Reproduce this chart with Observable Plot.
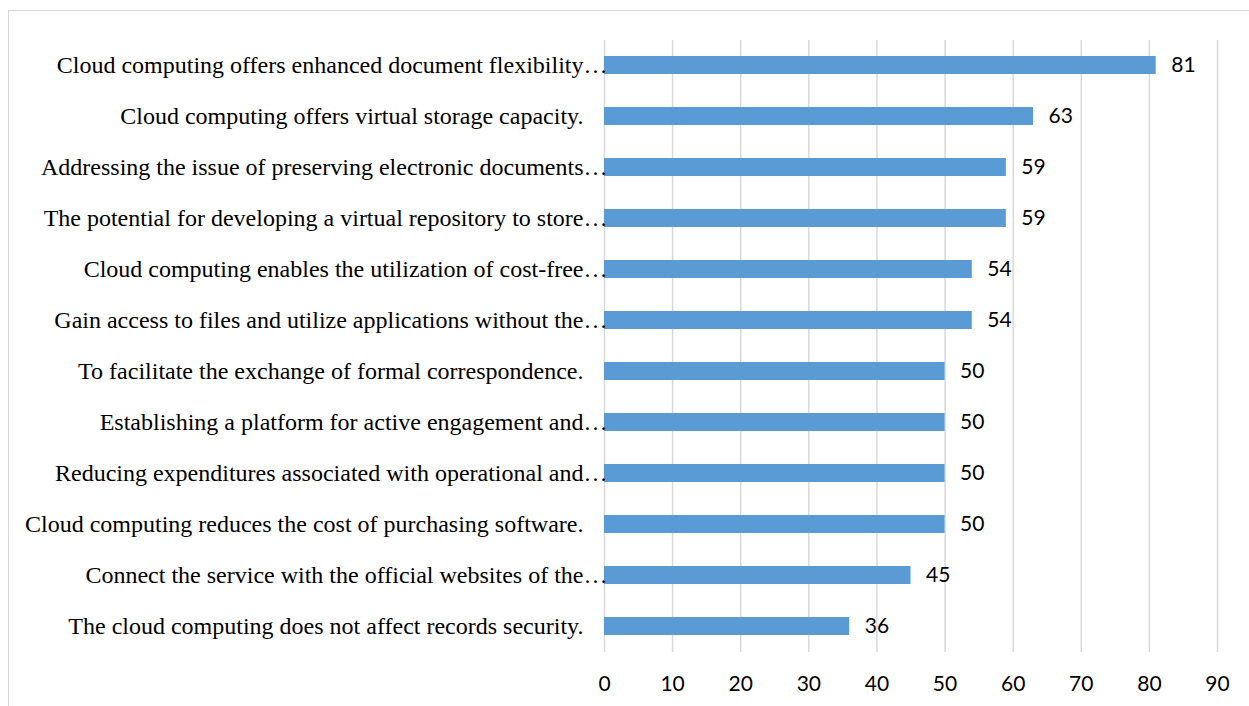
<!DOCTYPE html>
<html>
<head>
<meta charset="utf-8">
<script src="https://cdn.jsdelivr.net/npm/d3@7"></script>
<script src="https://cdn.jsdelivr.net/npm/@observablehq/plot@0.6"></script>
<style>
  html, body { margin: 0; padding: 0; background: #fff; }
  #frame { position: absolute; left: 8px; top: 10px; width: 1241px; height: 696px;
           border-top: 1px solid #d9d9d9; border-left: 1px solid #d9d9d9; box-sizing: border-box; }
  #chart { position: absolute; left: 0; top: 0; }
</style>
</head>
<body>
<div id="frame"></div>
<div id="chart"></div>
<script>
const categories = [
  "Cloud computing offers enhanced document flexibility…",
  "Cloud computing offers virtual storage capacity.",
  "Addressing the issue of preserving electronic documents…",
  "The potential for developing a virtual repository to store…",
  "Cloud computing enables the utilization of cost-free…",
  "Gain access to files and utilize applications without the…",
  "To facilitate the exchange of formal correspondence.",
  "Establishing a platform for active engagement and…",
  "Reducing expenditures associated with operational and…",
  "Cloud computing reduces the cost of purchasing software.",
  "Connect the service with the official websites of the…",
  "The cloud computing does not affect records security."
];
const values = [81, 63, 59, 59, 54, 54, 50, 50, 50, 50, 45, 36];
const xTicks = [0, 10, 20, 30, 40, 50, 60, 70, 80, 90];

const data = categories.map((c, i) => ({category: c, value: values[i], truncated: c.endsWith("…")}));

const sans = "Lato, 'Open Sans', sans-serif";
const serif = "'Liberation Serif', 'Times New Roman', serif";

const chart = Plot.plot({
  width: 1249,
  height: 706,
  marginLeft: 604,
  marginRight: 32,
  marginTop: 40,
  marginBottom: 54,
  style: {background: "transparent", overflow: "visible"},
  x: {domain: [0, 90], ticks: xTicks},
  y: {domain: categories, paddingInner: 0.647, paddingOuter: 0.32, align: 0.5, axis: null},
  marks: [
    Plot.ruleX(xTicks, {stroke: "#d9d9d9", strokeWidth: 1.5, strokeOpacity: 1}),
    Plot.axisX({ticks: xTicks, tickSize: 0, tickPadding: 24, fontSize: 21, fontFamily: sans, fill: "#000", label: null}),
    Plot.barX(data, {x: "value", y: "category", fill: "#5b9bd5"}),
    Plot.text(data, {x: "value", y: "category", text: d => String(d.value), textAnchor: "start", dx: 15,
      fontSize: 21, fontFamily: sans, fill: "#000"}),
    Plot.text(data.filter(d => d.truncated), {x: 0, y: "category", text: "category", textAnchor: "end", dx: 3,
      fontSize: 24, fontFamily: serif, fill: "#000"}),
    Plot.text(data.filter(d => !d.truncated), {x: 0, y: "category", text: "category", textAnchor: "end", dx: -21,
      fontSize: 24, fontFamily: serif, fill: "#000"})
  ]
});
document.getElementById("chart").appendChild(chart);
</script>
</body>
</html>
